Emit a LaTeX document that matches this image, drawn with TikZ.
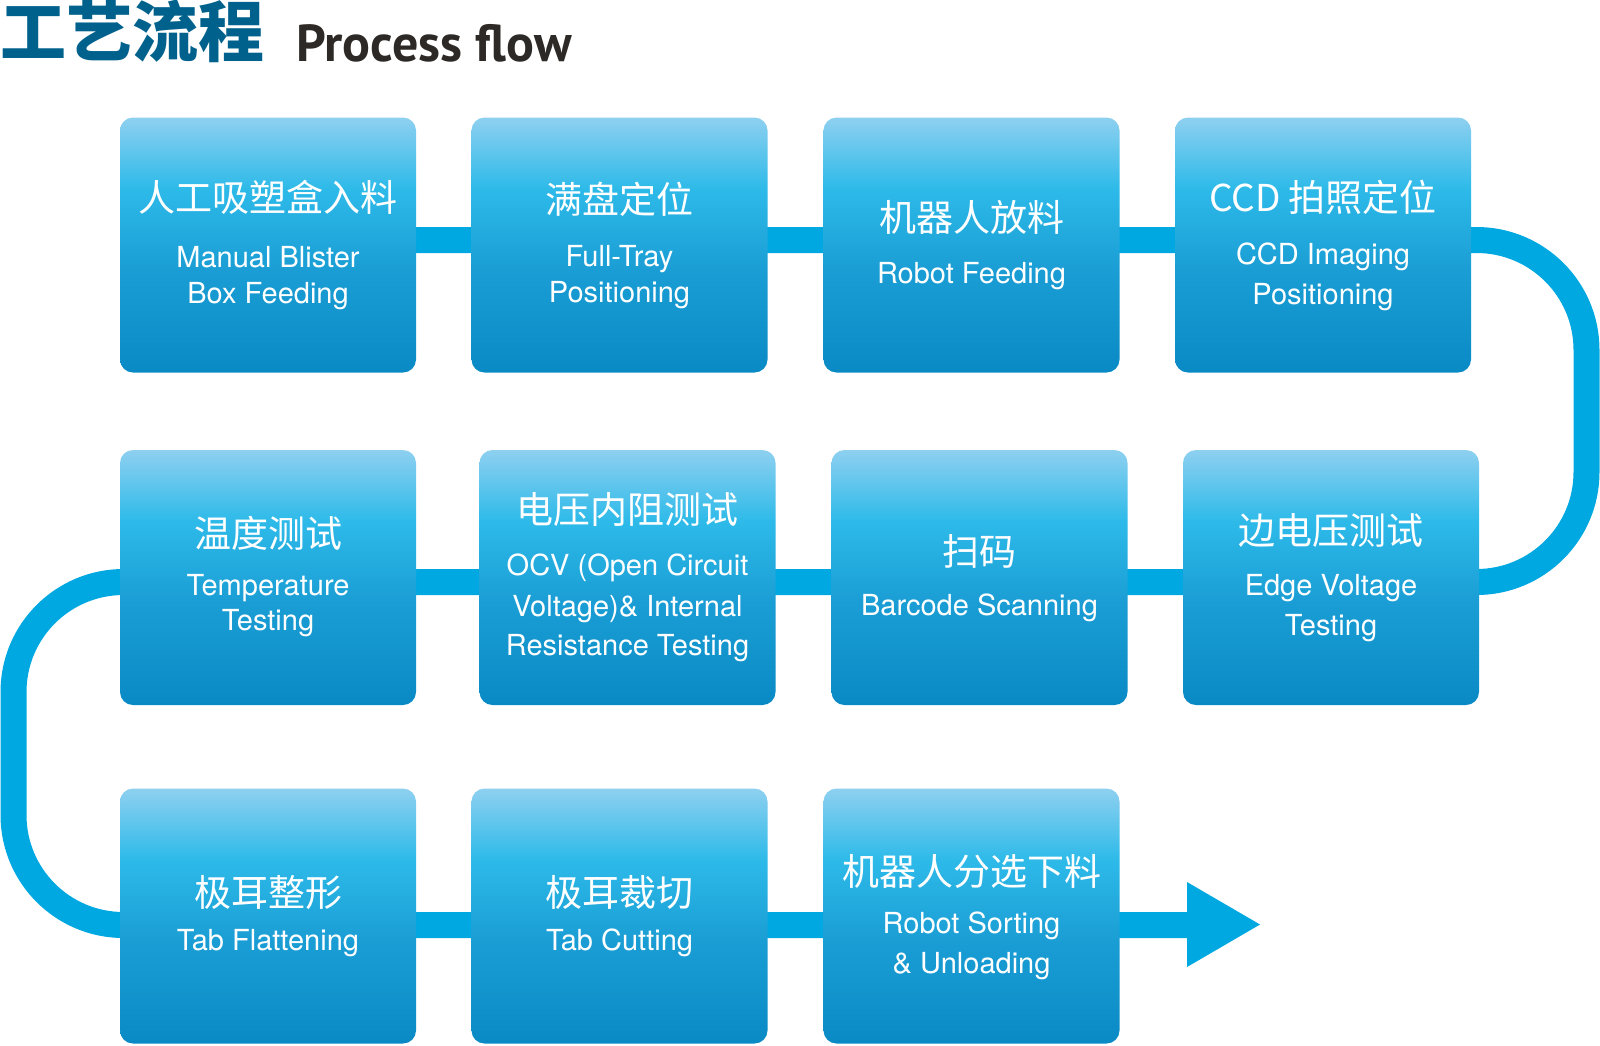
\documentclass[tikz,border=0pt]{standalone}
\usepackage{fontspec}
\setmainfont{TeX Gyre Heros}
\newfontfamily\cjk{Noto Sans CJK SC}
\newfontfamily\ttl{PT Sans}
\usetikzlibrary{backgrounds}
\definecolor{btop}{HTML}{8ED0F0}
\definecolor{bmid}{HTML}{2DBAE9}
\definecolor{blow}{HTML}{1A9DD4}
\definecolor{bbot}{HTML}{0A8AC5}
\definecolor{conn}{HTML}{00A8E1}
\definecolor{ttlblue}{HTML}{00628C}
\definecolor{ttldark}{HTML}{2D2926}
\pgfdeclareverticalshading{boxshade}{100bp}{color(0bp)=(bbot); color(25bp)=(bbot); color(45bp)=(blow); color(61bp)=(bmid); color(75bp)=(btop); color(100bp)=(btop)}
\begin{document}
\begin{tikzpicture}[x=1pt,y=-1pt,
  stepbox/.style={rectangle, rounded corners=13pt, minimum width=296pt, minimum height=255pt, inner sep=0pt, shading=boxshade, draw=none},
  zh/.style={anchor=base, inner sep=0pt, text=white, font=\cjk\fontsize{37}{44}\selectfont},
  en/.style={anchor=base, inner sep=0pt, text=white, font=\fontsize{29}{35}\selectfont},
  flow/.style={draw=conn, line width=26pt, rounded corners=110pt}]
\useasboundingbox (0,0) rectangle (1600,1045);

% title
\node[anchor=base west, inner sep=0pt, text=ttlblue, font=\cjk\bfseries\fontsize{66}{66}\selectfont] (title) at (0,56) {工艺流程};
\node[anchor=base west, inner sep=0pt, text=ttldark, font=\ttl\bfseries\fontsize{52}{52}\selectfont] (titleen) at (296,61) {Process flow};

% boxes
\node[stepbox] (b1) at (268,245) {};
\node[stepbox] (b2) at (619.5,245) {};
\node[stepbox] (b3) at (971.5,245) {};
\node[stepbox] (b4) at (1323,245) {};
\node[stepbox] (b5) at (268,577.5) {};
\node[stepbox] (b6) at (627.5,577.5) {};
\node[stepbox] (b7) at (979.5,577.5) {};
\node[stepbox] (b8) at (1331,577.5) {};
\node[stepbox] (b9) at (268,916) {};
\node[stepbox] (b10) at (619.5,916) {};
\node[stepbox] (b11) at (971.5,916) {};

% connectors
\coordinate (rtop) at (1586.5,240);
\coordinate (rbot) at (1586.5,582);
\coordinate (ltop) at (13.5,582);
\coordinate (lbot) at (13.5,925);
\coordinate (shaftend) at (1188,925);
\coordinate (headtop) at (1187,882);
\coordinate (headtip) at (1260,924.5);
\coordinate (headbot) at (1187,967);
\begin{scope}[on background layer]
\draw[flow] ([yshift=5pt]b1.center) -- (rtop) -- (rbot) -- (ltop) -- (lbot) -- (shaftend);
\fill[conn] (headtop) -- (headtip) -- (headbot) -- cycle;
\end{scope}

% texts
\node[zh] (z1) at (268,211) {人工吸塑盒入料};
\node[en] (e1a) at (268,267) {Manual Blister};
\node[en] (e1b) at (268,303) {Box Feeding};

\node[zh] (z2) at (619.5,213) {满盘定位};
\node[en] (e2a) at (619.5,266) {Full-Tray};
\node[en] (e2b) at (619.5,302) {Positioning};

\node[zh] (z3) at (971.5,231) {机器人放料};
\node[en] (e3a) at (971.5,283) {Robot Feeding};

\node[zh] (z4) at (1323,211) {CCD 拍照定位};
\node[en] (e4a) at (1323,264) {CCD Imaging};
\node[en] (e4b) at (1323,304) {Positioning};

\node[zh] (z5) at (268,547) {温度测试};
\node[en] (e5a) at (268,595) {Temperature};
\node[en] (e5b) at (268,630) {Testing};

\node[zh] (z6) at (627.5,523) {电压内阻测试};
\node[en] (e6a) at (627.5,575) {OCV (Open Circuit};
\node[en] (e6b) at (627.5,616) {Voltage)\& Internal};
\node[en] (e6c) at (627.5,655) {Resistance Testing};

\node[zh] (z7) at (979.5,565) {扫码};
\node[en] (e7a) at (979.5,615) {Barcode Scanning};

\node[zh] (z8) at (1331,544) {边电压测试};
\node[en] (e8a) at (1331,595) {Edge Voltage};
\node[en] (e8b) at (1331,635) {Testing};

\node[zh] (z9) at (268,906) {极耳整形};
\node[en] (e9a) at (268,950) {Tab Flattening};

\node[zh] (z10) at (619.5,906) {极耳裁切};
\node[en] (e10a) at (619.5,950) {Tab Cutting};

\node[zh] (z11) at (971.5,885) {机器人分选下料};
\node[en] (e11a) at (971.5,933) {Robot Sorting};
\node[en] (e11b) at (971.5,973) {\& Unloading};
\end{tikzpicture}
\end{document}
